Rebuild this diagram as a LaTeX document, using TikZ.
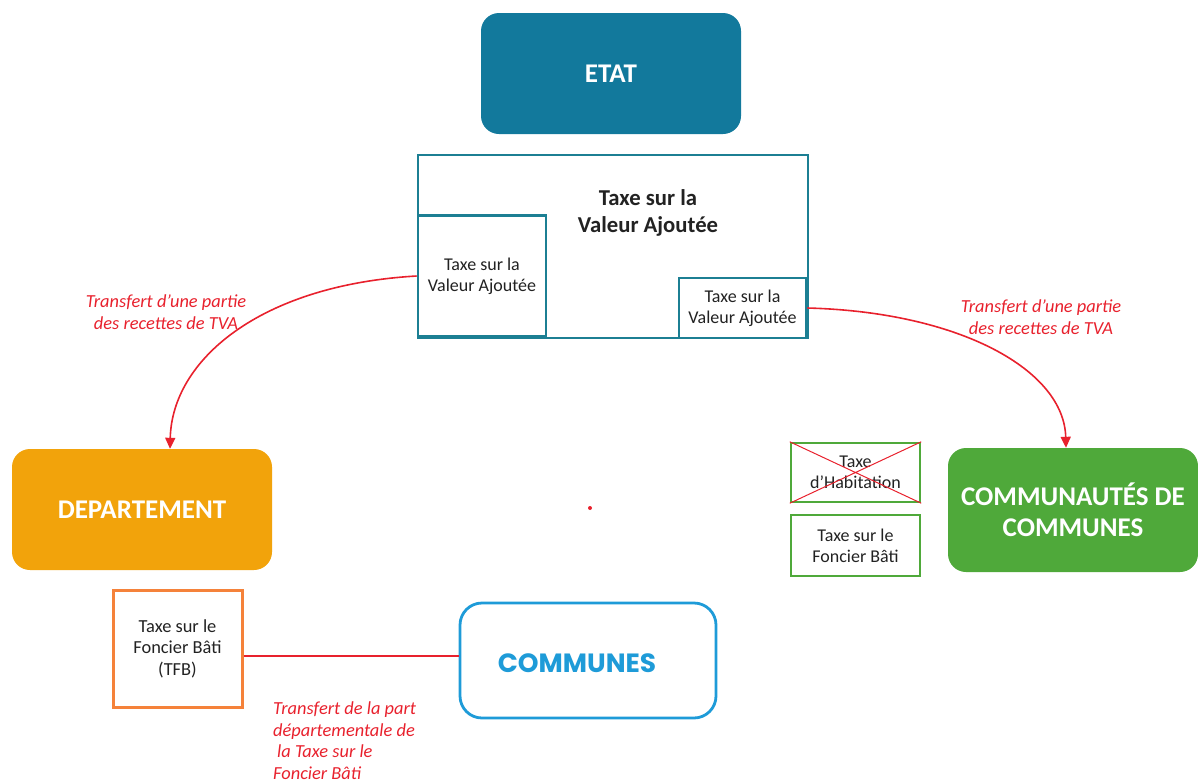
\documentclass[tikz,border=0pt]{standalone}
\usepackage{fontspec}
\setmainfont{Carlito}
\newfontfamily\geo{Poppins}
\usetikzlibrary{arrows.meta}
\definecolor{etatc}{HTML}{12799C}
\definecolor{tvac}{HTML}{1C7F93}
\definecolor{depc}{HTML}{F2A30B}
\definecolor{tfbc}{HTML}{F5823A}
\definecolor{comc}{HTML}{1E9BD8}
\definecolor{ccc}{HTML}{4FA93A}
\definecolor{redc}{HTML}{E8212D}
\definecolor{txt}{HTML}{222222}
\tikzset{
  big/.style={rounded corners=18pt, text=white, font=\bfseries\fontsize{27}{31}\selectfont, align=center, inner sep=0pt},
  tbox/.style={draw=tvac, line width=2.6pt, fill=white, inner sep=0pt, align=center, text=txt, font=\fontsize{18}{21}\selectfont},
  gbox/.style={draw=ccc, line width=2.4pt, inner sep=0pt, align=center, text=txt, font=\fontsize{18}{21}\selectfont},
  lab/.style={text=redc, font=\itshape\fontsize{18.4}{21.5}\selectfont, align=center, inner sep=0pt},
  conn/.style={draw=redc, line width=1.6pt},
  tip/.style={-{Triangle[length=11pt,width=10pt]}}
}
\begin{document}
\begin{tikzpicture}[x=1pt,y=-1pt]
\useasboundingbox (0,0) rectangle (1198,782);
% ETAT
\node[big, fill=etatc, minimum width=260pt, minimum height=121pt] (etat) at (611,73.5) {ETAT};
% big TVA box
\node[draw=tvac, line width=2.6pt, minimum width=390pt, minimum height=183pt, inner sep=0pt] (tva) at (613,246.5) {};
\node[text=txt, font=\bfseries\fontsize{22.7}{27}\selectfont, align=center] (tvat) at (648,213) {Taxe sur la\\Valeur Ajoutée};
\node[tbox, minimum width=128pt, minimum height=121pt] (tvl) at (482,276) {Taxe sur la\\Valeur Ajoutée};
\node[tbox, minimum width=127pt, minimum height=60pt] (tvr) at (742.5,308) {Taxe sur la\\Valeur Ajoutée};
% DEPARTEMENT
\node[big, fill=depc, minimum width=260pt, minimum height=121pt] (dep) at (142,509.5) {DEPARTEMENT};
% TFB
\node[draw=tfbc, line width=3pt, minimum width=129pt, minimum height=117pt, inner sep=0pt, align=center, text=txt, font=\fontsize{18.4}{21.5}\selectfont] (tfb) at (177.5,648.5) {Taxe sur le\\Foncier Bâti\\(TFB)};
% COMMUNES
\node[draw=comc, line width=2.8pt, fill=white, rounded corners=22pt, minimum width=256pt, minimum height=115pt, inner sep=0pt] (com) at (588,660.5) {};
\node[text=comc, font=\geo\bfseries\fontsize{26.4}{30}\selectfont, inner sep=0pt] (comt) at (577,663) {COMMUNES};
% CC
\node[big, fill=ccc, minimum width=250pt, minimum height=124pt] (cc) at (1073,510) {COMMUNAUTÉS DE\\COMMUNES};
% small green boxes
\node[gbox, minimum width=129pt, minimum height=59pt] (th) at (855.5,472.5) {Taxe\\d’Habitation};
\draw[redc, line width=1pt] (th.north west) -- (th.south east) (th.north east) -- (th.south west);
\node[gbox, minimum width=129pt, minimum height=61pt] (fb) at (855.5,545.5) {Taxe sur le\\Foncier Bâti};
% connectors
\coordinate (ldst) at (170,447);
\coordinate (rdst) at (1066,447);
\draw[conn, tip] (tvl.west |- 0,276) .. controls (260,285) and (172,360) .. (dep.north -| ldst);
\draw[conn, tip] (tvr.east) .. controls (960,312) and (1064,370) .. (cc.north -| rdst);
\draw[conn] (tfb.east |- 0,656) -- (com.west |- 0,656);
% labels
\node[lab] (l1) at (166,312) {Transfert d’une partie\\des recettes de TVA};
\node[lab] (l2) at (1041,317) {Transfert d’une partie\\des recettes de TVA};
\node[lab, align=left, anchor=north west] (l3) at (273,702) {Transfert de la part\\départementale de\\\hspace{4pt}la Taxe sur le\\Foncier Bâti};
% dot
\fill[redc] (590,508) circle (2pt);
\end{tikzpicture}
\end{document}
